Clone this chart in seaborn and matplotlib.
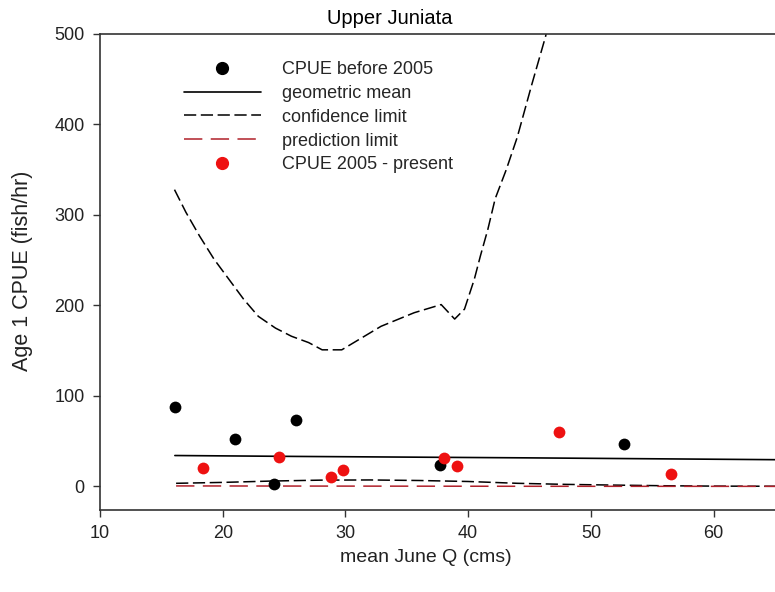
import matplotlib
matplotlib.use("Agg")
import matplotlib.pyplot as plt
import seaborn as sns
import numpy as np
from matplotlib.lines import Line2D

sns.set_style("white")
plt.rcParams['font.family'] = ['Liberation Sans', 'DejaVu Sans']

# Data
before_x = [16.1, 21.0, 26.0, 24.2, 37.7, 52.7]
before_y = [88, 53, 73, 3, 24, 47]
after_x = [18.4, 24.6, 28.8, 29.8, 38.0, 39.1, 47.4, 56.5]
after_y = [20, 33, 10, 18, 32, 23, 60, 14]

gm_x = [16.1, 26.0, 45.0, 63.0, 66.0]
gm_y = [34.2, 33.2, 31.6, 29.8, 29.5]

cu_x = [16.07, 17.0, 18.1, 19.3, 20.5, 21.7, 22.9, 24.3, 25.6, 27.0, 28.1, 29.7,
        32.9, 35.6, 37.8, 38.9, 39.7, 40.5, 41.0, 41.6, 42.2, 43.1, 44.0, 45.2, 46.3, 47.0]
cu_y = [328, 303, 277, 251, 229, 207, 188, 175, 166, 159, 151, 151,
        177, 192, 201, 185, 196, 229, 255, 284, 318, 350, 386, 445, 497, 540]

cl_x = [16.2, 20, 24, 28, 32, 36, 40, 44, 48, 52, 56, 60, 66]
cl_y = [3.5, 4.5, 6, 7, 7.2, 6.6, 5.5, 3.5, 2.3, 1.5, 0.8, 0.4, 0.2]

pl_x = [16.2, 30, 45, 66]
pl_y = [0.6, 0.4, 0.2, 0.1]

fig = plt.figure(figsize=(7.75, 5.92), dpi=100)
ax = fig.add_axes([100/775, 1-510/592, 1-100/775, (510-34)/592])

red = '#ee1111'
dred = '#b0202a'
sns.lineplot(x=gm_x, y=gm_y, ax=ax, color='black', lw=1.2)
sns.lineplot(x=cu_x, y=cu_y, ax=ax, color='black', lw=1.1)
ax.lines[-1].set_dashes((8, 3))
sns.lineplot(x=cl_x, y=cl_y, ax=ax, color='black', lw=1.1)
ax.lines[-1].set_dashes((8, 3))
sns.lineplot(x=pl_x, y=pl_y, ax=ax, color=dred, lw=1.1)
ax.lines[-1].set_dashes((12, 5.5))
sns.scatterplot(x=before_x, y=before_y, ax=ax, color='black', s=72, edgecolor='black', linewidth=0, zorder=5)
sns.scatterplot(x=after_x, y=after_y, ax=ax, color=red, s=72, edgecolor=red, linewidth=0, zorder=6)

ax.set_xlim(10, 65)
ax.set_ylim(-26, 500)
ax.set_xticks([10, 20, 30, 40, 50, 60])
ax.set_yticks([0, 100, 200, 300, 400, 500])
for s in ['left', 'bottom', 'top']:
    ax.spines[s].set_color('#333333')
    ax.spines[s].set_linewidth(1.2)
ax.spines['right'].set_visible(False)
ax.tick_params(axis='both', direction='out', length=5, width=1, color='#333333',
               labelsize=13, labelcolor='#222222', left=True, bottom=True, pad=6)
ax.set_xlabel('mean June Q (cms)', fontsize=14, color='#222222')
ax.set_ylabel('Age 1 CPUE (fish/hr)', fontsize=15.5, color='#222222')
ax.xaxis.set_label_coords((426-100)/675, -(558-510)/476, transform=ax.transAxes)
ax.yaxis.set_label_coords(-(100-23)/675, (510-271)/476, transform=ax.transAxes)
ax.xaxis.label.set_va('center')
ax.yaxis.label.set_va('center')

fig.text(390/775, 1-18/592, 'Upper Juniata', ha='center', va='center', fontsize=14.5, color='black')

handles = [
    Line2D([], [], ls='none', marker='o', color='black', markersize=8.5),
    Line2D([], [], color='black', lw=1.2),
    Line2D([], [], color='black', lw=1.1, dashes=(8, 3)),
    Line2D([], [], color=dred, lw=1.1, dashes=(12, 5.5)),
    Line2D([], [], ls='none', marker='o', color=red, markersize=8.5),
]
labels = ['CPUE before 2005', 'geometric mean', 'confidence limit', 'prediction limit', 'CPUE 2005 - present']
leg = ax.legend(handles, labels, loc='upper left', bbox_to_anchor=(184/775, 1-61/592),
                bbox_transform=fig.transFigure, frameon=False, fontsize=13,
                handlelength=4.26, handletextpad=1.16, labelspacing=0.38, borderpad=0, borderaxespad=0)

fig.savefig('out.png', dpi=100)
